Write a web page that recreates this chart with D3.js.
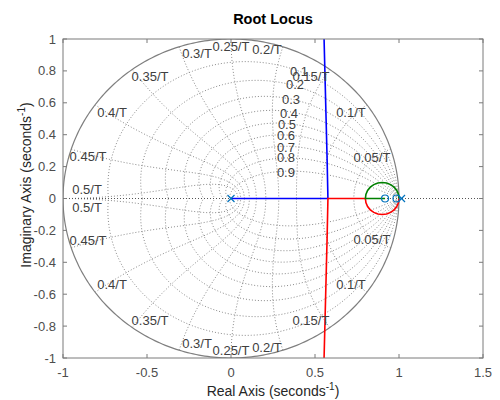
<!DOCTYPE html>
<html><head><meta charset="utf-8">
<script src="https://cdn.jsdelivr.net/npm/d3@7"></script>
<style>body{margin:0;background:#fff} text{font-family:"Liberation Sans",Arial,Helvetica,sans-serif}</style>
</head><body><svg id="c" width="500" height="400"></svg>
<script>
// ---- data ----
const xTicks = [-1, -0.5, 0, 0.5, 1, 1.5];
const xTickLabels = ["-1", "-0.5", "0", "0.5", "1", "1.5"];
const yTicks = [1, 0.8, 0.6, 0.4, 0.2, 0, -0.2, -0.4, -0.6, -0.8, -1];
const yTickLabels = ["1", "0.8", "0.6", "0.4", "0.2", "0", "-0.2", "-0.4", "-0.6", "-0.8", "-1"];
const zetaValues = [0.1, 0.2, 0.3, 0.4, 0.5, 0.6, 0.7, 0.8, 0.9];
const zetaLabels = ["0.1", "0.2", "0.3", "0.4", "0.5", "0.6", "0.7", "0.8", "0.9"];
const zetaLabelRe = [0.405, 0.381, 0.357, 0.345, 0.333, 0.327, 0.327, 0.327, 0.327];
const zetaLabelIm = [0.799, 0.712, 0.618, 0.536, 0.461, 0.392, 0.317, 0.254, 0.160];
const wnValues = [0.05, 0.1, 0.15, 0.2, 0.25, 0.3, 0.35, 0.4, 0.45, 0.5];
const wnLabels = ["0.05/T", "0.1/T", "0.15/T", "0.2/T", "0.25/T", "0.3/T", "0.35/T", "0.4/T", "0.45/T", "0.5/T"];
const wnLabelRe = [0.839, 0.714, 0.476, 0.214, 0.0, -0.202, -0.482, -0.708, -0.851, -0.857];
const wnLabelIm = [0.26, 0.539, 0.765, 0.937, 0.953, 0.906, 0.765, 0.539, 0.263, 0.056];
const poleRe = [0, 1.015];
const poleIm = [0, 0];
const zeroRe = [0.917, 0.985];
const zeroIm = [0, 0];
// locus branches (re, im)
const blueRe = [0, 0.577, 0.572, 0.566, 0.560, 0.554, 0.550];
const blueIm = [0, 0, 0.25, 0.5, 0.75, 1.0, 1.2];
const redRe = [1.000, 0.997, 0.987, 0.971, 0.950, 0.926, 0.900, 0.874, 0.850, 0.829, 0.813, 0.803, 0.800, 0.577, 0.572, 0.566, 0.560, 0.554, 0.550];
const redIm = [0.000, -0.026, -0.050, -0.071, -0.087, -0.097, -0.100, -0.097, -0.087, -0.071, -0.050, -0.026, 0.000, 0, -0.25, -0.5, -0.75, -1.0, -1.2];
const greenRe = [1.000, 0.997, 0.987, 0.971, 0.950, 0.926, 0.900, 0.874, 0.850, 0.829, 0.813, 0.803, 0.800, 0.917];
const greenIm = [0.000, 0.026, 0.050, 0.071, 0.087, 0.097, 0.100, 0.097, 0.087, 0.071, 0.050, 0.026, 0.000, 0.000];

// ---- chart ----
const svg = d3.select("#c");
const L = 63, R = 483, T = 39, B = 358;
const x = d3.scaleLinear().domain([-1, 1.5]).range([L, R]);
const y = d3.scaleLinear().domain([-1, 1]).range([B, T]);
svg.append("rect").attr("width", 500).attr("height", 400).attr("fill", "#fff");
svg.append("defs").append("clipPath").attr("id", "clip")
  .append("rect").attr("x", L).attr("y", T).attr("width", R - L).attr("height", B - T);
const plot = svg.append("g").attr("clip-path", "url(#clip)");
const line = d3.line().x(d => x(d[0])).y(d => y(d[1]));
const gridColor = "#8a8a8a";

// grid: damping spirals
zetaValues.forEach(z => {
  const m = z / Math.sqrt(1 - z * z);
  [1, -1].forEach(s => {
    const pts = d3.range(0, Math.PI + 1e-9, Math.PI / 90).map(th => {
      const r = Math.exp(-m * th);
      return [r * Math.cos(th), s * r * Math.sin(th)];
    });
    plot.append("path").attr("d", line(pts)).attr("fill", "none")
      .attr("stroke", gridColor).attr("stroke-width", 1).attr("stroke-dasharray", "1,2");
  });
});
// grid: natural frequency curves
wnValues.forEach(f => {
  const w = 2 * Math.PI * f;
  [1, -1].forEach(s => {
    const pts = d3.range(0, 1 + 1e-9, 0.02).map(zt => {
      const r = Math.exp(-zt * w), a = w * Math.sqrt(1 - zt * zt);
      return [r * Math.cos(a), s * r * Math.sin(a)];
    });
    plot.append("path").attr("d", line(pts)).attr("fill", "none")
      .attr("stroke", gridColor).attr("stroke-width", 1).attr("stroke-dasharray", "1,2");
  });
});
// real axis dotted
plot.append("line").attr("x1", x(-1)).attr("x2", x(1.5)).attr("y1", y(0)).attr("y2", y(0))
  .attr("stroke", "#555").attr("stroke-width", 1).attr("stroke-dasharray", "1,2");
// unit circle
plot.append("path").attr("d", line(d3.range(0, 2 * Math.PI + 1e-9, Math.PI / 180).map(t => [Math.cos(t), Math.sin(t)])))
  .attr("fill", "none").attr("stroke", "#7f7f7f").attr("stroke-width", 1.2);

// grid labels
const lab = svg.append("g").attr("font-size", 13).attr("fill", "#404040").attr("text-anchor", "middle").attr("dominant-baseline", "central");
zetaValues.forEach((z, i) => {
  lab.append("text").attr("x", x(zetaLabelRe[i])).attr("y", y(zetaLabelIm[i])).text(zetaLabels[i]);
});
wnValues.forEach((f, i) => {
  [1, -1].forEach(s => {
    lab.append("text").attr("x", x(wnLabelRe[i])).attr("y", y(s * wnLabelIm[i])).text(wnLabels[i]);
  });
});

// loci
const branches = [[blueRe, blueIm, "#0000ff"], [redRe, redIm, "#ff0000"], [greenRe, greenIm, "#008000"]];
branches.forEach(([re, im, c]) => {
  plot.append("path").attr("d", line(re.map((v, i) => [v, im[i]]))).attr("fill", "none")
    .attr("stroke", c).attr("stroke-width", 1.6);
});
// poles and zeros
const mk = "#0072bd";
zeroRe.forEach((v, i) => {
  plot.append("circle").attr("cx", x(v)).attr("cy", y(zeroIm[i])).attr("r", 3.5)
    .attr("fill", "none").attr("stroke", mk).attr("stroke-width", 1.2);
});
poleRe.forEach((v, i) => {
  const cx = x(v), cy = y(poleIm[i]), h = 3.5;
  plot.append("path").attr("d", `M${cx - h},${cy - h}L${cx + h},${cy + h}M${cx - h},${cy + h}L${cx + h},${cy - h}`)
    .attr("stroke", mk).attr("stroke-width", 1.2);
});

// axes box + ticks
const axc = "#7a7a7a";
svg.append("rect").attr("x", L).attr("y", T).attr("width", R - L).attr("height", B - T)
  .attr("fill", "none").attr("stroke", axc).attr("stroke-width", 1);
const tl = 4;
xTicks.forEach((v, i) => {
  svg.append("line").attr("x1", x(v)).attr("x2", x(v)).attr("y1", B).attr("y2", B - tl).attr("stroke", axc);
  svg.append("line").attr("x1", x(v)).attr("x2", x(v)).attr("y1", T).attr("y2", T + tl).attr("stroke", axc);
  svg.append("text").attr("x", x(v)).attr("y", B + 14).attr("text-anchor", "middle")
    .attr("dominant-baseline", "central").attr("font-size", 13).attr("fill", "#4d4d4d").text(xTickLabels[i]);
});
yTicks.forEach((v, i) => {
  svg.append("line").attr("x1", L).attr("x2", L + tl).attr("y1", y(v)).attr("y2", y(v)).attr("stroke", axc);
  svg.append("line").attr("x1", R).attr("x2", R - tl).attr("y1", y(v)).attr("y2", y(v)).attr("stroke", axc);
  svg.append("text").attr("x", L - 7).attr("y", y(v)).attr("text-anchor", "end")
    .attr("dominant-baseline", "central").attr("font-size", 13).attr("fill", "#4d4d4d").text(yTickLabels[i]);
});

// title and labels
svg.append("text").attr("x", (L + R) / 2).attr("y", 24).attr("text-anchor", "middle")
  .attr("font-size", 14.5).attr("font-weight", "bold").attr("fill", "#000").text("Root Locus");
const xl = svg.append("text").attr("x", (L + R) / 2).attr("y", 396).attr("text-anchor", "middle")
  .attr("font-size", 14).attr("fill", "#262626");
xl.append("tspan").text("Real Axis (seconds");
xl.append("tspan").attr("dy", -6).attr("font-size", 10).text("-1");
xl.append("tspan").attr("dy", 6).text(")");
const yl = svg.append("text").attr("transform", "translate(31,185) rotate(-90)").attr("text-anchor", "middle")
  .attr("font-size", 14).attr("fill", "#262626");
yl.append("tspan").text("Imaginary Axis (seconds");
yl.append("tspan").attr("dy", -6).attr("font-size", 10).text("-1");
yl.append("tspan").attr("dy", 6).text(")");
</script></body></html>
